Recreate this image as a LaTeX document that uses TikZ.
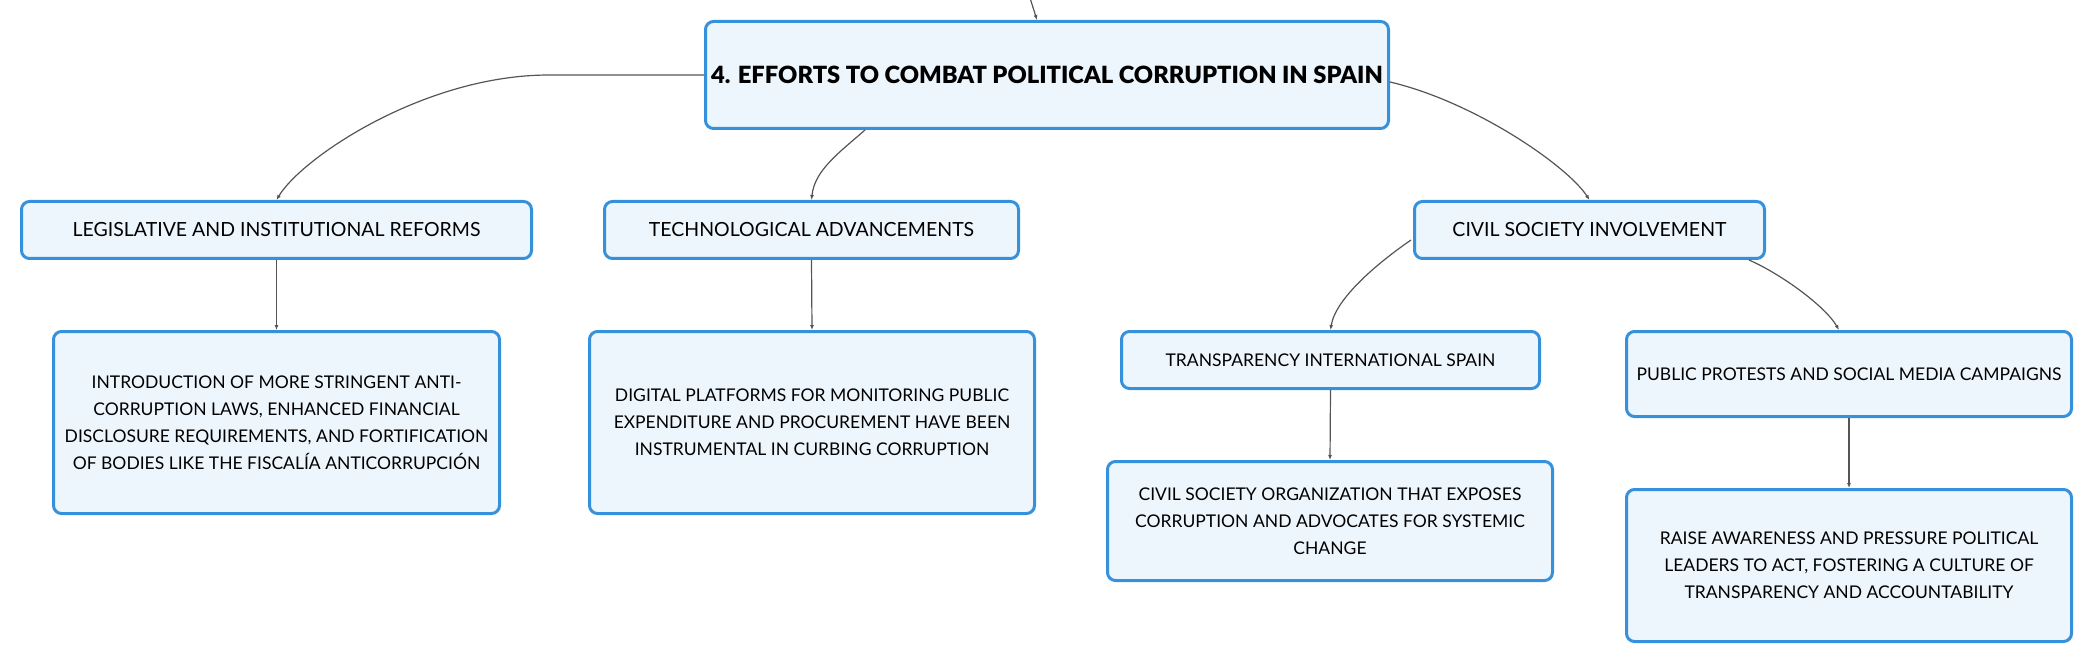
\documentclass[tikz,border=0pt]{standalone}
\usepackage{fontspec}
\setmainfont{Lato}
\IfFontExistsTF{Lato Black}
  {\newfontfamily\rootface{Lato Black}\newcommand\rootsize{\fontsize{23.7}{27}\selectfont}}
  {\newfontfamily\rootface{Lato}[UprightFont=*-Bold]\newcommand\rootsize{\fontsize{24.8}{28}\selectfont}}
\usetikzlibrary{calc,arrows.meta}
\definecolor{boxline}{HTML}{3591DC}
\definecolor{boxfill}{HTML}{EEF6FD}
\definecolor{linkgray}{HTML}{555555}
\tikzset{
  topic/.style={draw=boxline,fill=boxfill,line width=3pt,rounded corners=8pt,align=center,inner sep=0pt},
  mainbox/.style={topic,font=\rootface\rootsize},
  subbox/.style={topic,font=\fontsize{19.5}{24}\selectfont},
  notebox/.style={topic,font=\fontsize{17.5}{27}\selectfont},
  link/.style={draw=linkgray,line width=1.2pt,-{Latex[length=5pt,width=4pt]}}
}

\begin{document}
\begin{tikzpicture}[x=1pt,y=-1pt]
  \useasboundingbox (0,0) rectangle (2094,663);

  %% Main topic
  \node[mainbox,minimum width=683,minimum height=107] (root) at (1047,75)
    {4. EFFORTS TO COMBAT POLITICAL CORRUPTION IN SPAIN};

  %% First level topics
  \node[subbox,minimum width=510,minimum height=57] (leg) at (276.5,230)
    {LEGISLATIVE AND INSTITUTIONAL REFORMS};
  \node[subbox,minimum width=414,minimum height=57] (tech) at (811.5,230)
    {TECHNOLOGICAL ADVANCEMENTS};
  \node[subbox,minimum width=350,minimum height=57] (civil) at (1589.5,230)
    {CIVIL SOCIETY INVOLVEMENT};

  %% Second level topics and notes
  \node[notebox,minimum width=446,minimum height=182] (intro) at (276.5,422.5)
    {INTRODUCTION OF MORE STRINGENT ANTI-\\
     CORRUPTION LAWS, ENHANCED FINANCIAL\\
     DISCLOSURE REQUIREMENTS, AND FORTIFICATION\\
     OF BODIES LIKE THE FISCALÍA ANTICORRUPCIÓN};
  \node[notebox,minimum width=445,minimum height=182] (digital) at (812,422.5)
    {DIGITAL PLATFORMS FOR MONITORING PUBLIC\\
     EXPENDITURE AND PROCUREMENT HAVE BEEN\\
     INSTRUMENTAL IN CURBING CORRUPTION};
  \node[notebox,minimum width=418,minimum height=57] (transp) at (1330.5,360)
    {TRANSPARENCY INTERNATIONAL SPAIN};
  \node[notebox,minimum width=445,minimum height=85] (public) at (1849,374)
    {PUBLIC PROTESTS AND SOCIAL MEDIA CAMPAIGNS};
  \node[notebox,minimum width=445,minimum height=119] (org) at (1330,521)
    {CIVIL SOCIETY ORGANIZATION THAT EXPOSES\\
     CORRUPTION AND ADVOCATES FOR SYSTEMIC\\
     CHANGE};
  \node[notebox,minimum width=445,minimum height=152] (raise) at (1849,565.5)
    {RAISE AWARENESS AND PRESSURE POLITICAL\\
     LEADERS TO ACT, FOSTERING A CULTURE OF\\
     TRANSPARENCY AND ACCOUNTABILITY};

  %% Connectors from the main topic
  \coordinate (parent) at (1030,-2);
  \draw[link] (parent) -- ($(root.north)+(-10,0)$);
  \draw[link] (root.west) -- ++(-155,0) .. controls +(-125,0) and +(25,-42) .. (leg.north);
  \draw[link] ($(root.south)+(-182,0)$) .. controls +(-25,22) and +(3,-30) .. (tech.north);
  \draw[link] ($(root.east)+(0,7)$) .. controls +(85,20) and +(-22,-34) .. (civil.north);

  %% Civil society branches
  \draw[link] ($(civil.west)+(-2,10)$) .. controls +(-32,22) and +(5,-32) .. (transp.north);
  \draw[link] ($(civil.south east)+(-17,0)$) .. controls +(32,14) and +(-14,-24) .. ($(public.north)+(-10,0)$);

  %% Straight links down to the notes
  \foreach \a/\b in {leg/intro,tech/digital,transp/org,public/raise}
    \draw[link] (\a.south) -- (\b.north);
\end{tikzpicture}
\end{document}
